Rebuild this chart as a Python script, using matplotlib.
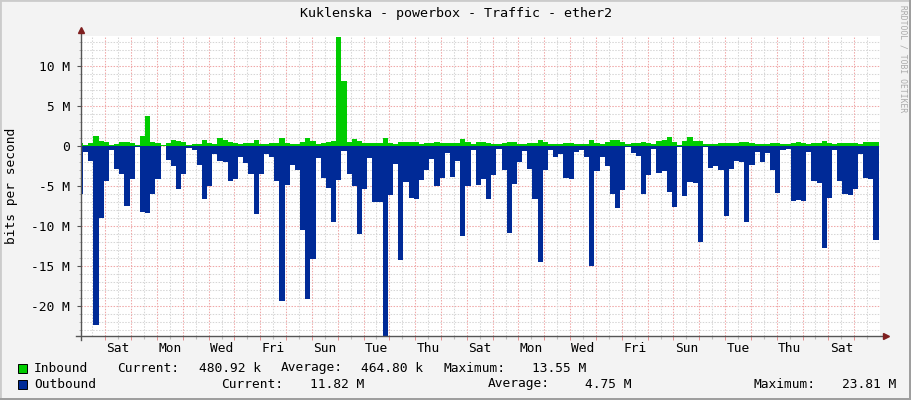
import numpy as np
import matplotlib
matplotlib.use("Agg")
import matplotlib.pyplot as plt
from matplotlib.patches import Rectangle

plt.rcParams['font.family'] = ['DejaVu Sans Mono']

# rrd samples: 5 per day (4.8 h), time axis in days from the first Saturday 00:00
t_first = -1.057
step = 0.2

# Mbit/s
inbound = [
    0.27, 0.06, 0.30, 1.20, 0.60, 0.38, 0.06, 0.18, 0.44, 0.44,
    0.32, 0.06, 1.20, 3.70, 0.46, 0.27, 0.06, 0.35, 0.70, 0.55,
    0.38, 0.06, 0.20, 0.20, 0.70, 0.35, 0.20, 0.95, 0.70, 0.48,
    0.28, 0.22, 0.27, 0.27, 0.70, 0.20, 0.17, 0.28, 0.28, 0.95,
    0.30, 0.22, 0.25, 0.44, 0.90, 0.60, 0.23, 0.35, 0.48, 0.60,
    13.55, 8.05, 0.48, 0.77, 0.60, 0.35, 0.27, 0.35, 0.35, 0.95,
    0.35, 0.23, 0.44, 0.44, 0.44, 0.48, 0.23, 0.27, 0.35, 0.44,
    0.27, 0.35, 0.35, 0.27, 0.77, 0.44, 0.23, 0.40, 0.40, 0.35,
    0.23, 0.15, 0.35, 0.44, 0.44, 0.23, 0.15, 0.35, 0.35, 0.70,
    0.40, 0.15, 0.23, 0.15, 0.35, 0.35, 0.23, 0.23, 0.23, 0.70,
    0.27, 0.15, 0.48, 0.65, 0.70, 0.44, 0.15, 0.35, 0.27, 0.44,
    0.27, 0.15, 0.60, 0.70, 1.05, 0.44, 0.06, 0.60, 1.05, 0.52,
    0.60, 0.15, 0.20, 0.20, 0.30, 0.30, 0.27, 0.27, 0.44, 0.44,
    0.35, 0.15, 0.23, 0.23, 0.35, 0.35, 0.15, 0.15, 0.35, 0.48,
    0.35, 0.15, 0.27, 0.27, 0.56, 0.35, 0.15, 0.35, 0.35, 0.35,
    0.27, 0.15, 0.48, 0.48, 0.48,
]
outbound = [
    6.1, 0.8, 1.9, 22.4, 9.1, 4.4, 0.6, 2.9, 3.6, 7.6,
    4.2, 0.2, 8.3, 8.4, 6.1, 4.2, 0.1, 1.8, 2.5, 5.4,
    3.6, 0.3, 0.6, 2.4, 6.7, 5.1, 1.0, 1.9, 2.0, 4.4,
    4.2, 1.4, 2.2, 3.6, 8.6, 3.6, 1.0, 1.4, 4.4, 19.4,
    4.9, 2.4, 3.1, 10.5, 19.2, 14.2, 1.6, 4.0, 5.3, 9.6,
    4.3, 0.7, 3.6, 5.0, 11.1, 5.4, 1.6, 7.0, 7.1, 23.81,
    6.2, 2.3, 14.3, 4.6, 6.5, 6.7, 4.3, 3.1, 1.7, 5.1,
    4.0, 0.9, 3.9, 1.9, 11.3, 5.1, 0.6, 4.9, 4.2, 6.7,
    3.7, 0.4, 3.1, 10.9, 4.8, 2.1, 0.7, 2.9, 6.7, 14.5,
    3.1, 0.6, 1.4, 1.0, 4.1, 4.2, 0.8, 0.6, 1.4, 15.0,
    3.2, 1.4, 2.5, 6.1, 7.8, 5.5, 0.2, 0.9, 1.3, 6.1,
    3.7, 0.4, 3.4, 3.2, 5.8, 7.7, 0.2, 6.3, 4.6, 4.7,
    12.0, 0.2, 2.8, 2.6, 3.1, 8.8, 2.9, 1.9, 2.0, 9.5,
    2.4, 0.8, 2.1, 0.9, 3.1, 5.9, 0.6, 0.4, 6.9, 6.8,
    6.9, 0.8, 4.4, 4.7, 12.8, 6.5, 0.6, 4.4, 6.1, 6.2,
    5.4, 1.1, 4.0, 4.2, 11.82,
]

day_labels = ['Sat', 'Mon', 'Wed', 'Fri', 'Sun', 'Tue', 'Thu', 'Sat',
              'Mon', 'Wed', 'Fri', 'Sun', 'Tue', 'Thu', 'Sat']
y_ticks = [-20, -15, -10, -5, 0, 5, 10]

in_stats = ['480.92 k', '464.80 k', '13.55 M']
out_stats = ['11.82 M', '4.75 M', '23.81 M']

BACK = '#F3F3F3'
GRID = '#D6D6D6'
MGRID = '#F0A8A8'
AXIS = '#555555'
ARROW = '#7F1F1F'
GREEN = '#00CC00'
BLUE = '#002A97'

W, H = 911, 400
fig = plt.figure(figsize=(W / 100, H / 100), dpi=100, facecolor=BACK)
ax = fig.add_axes([81 / W, 64 / H, 799 / W, 300 / H])
ax.set_facecolor('white')

edges = t_first + step * np.arange(len(outbound) + 1)
ax.stairs(inbound, edges, baseline=0, fill=True, color=GREEN, lw=0, zorder=3)
ax.stairs(-np.array(outbound), edges, baseline=0, fill=True, color=BLUE, lw=0, zorder=3)

ax.set_xlim(-0.941, 30.0)
ax.set_ylim(-23.81, 13.69)

dots = (0, (1.4, 1.4))
for v in range(-23, 14):
    ax.axhline(v, color=MGRID if v % 5 == 0 else GRID, lw=0.75, ls=dots, zorder=1)
for d in np.arange(-0.5, 30, 0.5):
    is_day = d == int(d)
    ax.axvline(d, color=MGRID if is_day else GRID, lw=0.75, ls=dots, zorder=1)

for s in ax.spines.values():
    s.set_visible(False)

# axis lines with arrows
ax.plot([-0.006, 1.004], [0, 0], transform=ax.transAxes, color=AXIS, lw=1,
        clip_on=False, zorder=5)
ax.plot([0, 0], [-0.013, 1.015], transform=ax.transAxes, color=AXIS, lw=1,
        clip_on=False, zorder=5)
ax.plot([1.008], [0], transform=ax.transAxes, marker='>', ms=5, color=ARROW,
        clip_on=False, zorder=6)
ax.plot([0], [1.02], transform=ax.transAxes, marker='^', ms=5, color=ARROW,
        clip_on=False, zorder=6)

ax.set_xticks(0.5 + np.arange(30))
ax.set_xticklabels([day_labels[i // 2] if i % 2 == 0 else '' for i in range(30)])
ax.set_xticks(np.arange(0, 30), minor=True)
ax.tick_params(axis='x', which='major', length=2, color='#BBBBBB', pad=2,
               labelsize=9.3)
ax.tick_params(axis='x', which='minor', length=3, color='#E08080')

ax.set_yticks(y_ticks)
ax.set_yticklabels([f'{v} M' if v != 0 else '0' for v in y_ticks])
ax.set_yticks(np.arange(-23, 14), minor=True)
ax.tick_params(axis='y', which='major', length=3, color=AXIS, pad=5,
               labelsize=9.3)
ax.tick_params(axis='y', which='minor', length=1.5, color='#AAAAAA')

fig.text(12 / W, 1 - 186 / H, 'bits per second', rotation=90, ha='center',
         va='center', fontsize=9.3)
fig.text(456 / W, 1 - 14 / H, 'Kuklenska - powerbox - Traffic - ether2',
         ha='center', va='center', fontsize=9.6)
fig.text(903 / W, 1 - 5 / H, 'RRDTOOL / TOBI OETIKER', rotation=270,
         ha='center', va='top', fontsize=5.8, color='#AAAAAA')

# legend rows
rows = [
    (368, GREEN, 'Inbound', in_stats, [117, 199, 281, 361, 443, 532]),
    (384, BLUE, 'Outbound', out_stats, [221, 310, 488, 585, 754, 842]),
]
for y, col, name, stats, xs in rows:
    fig.patches.append(Rectangle((18 / W, 1 - (y + 5) / H), 9 / W, 9 / H,
                                 transform=fig.transFigure, facecolor=col,
                                 edgecolor='black', lw=0.7))
    fig.text(34 / W, 1 - y / H, name, va='center', fontsize=9.3)
    words = ['Current:', stats[0], 'Average:', stats[1], 'Maximum:', stats[2]]
    for x, w in zip(xs, words):
        fig.text(x / W, 1 - y / H, w, va='center', fontsize=9.3)

# frame shading
fig.patches.append(Rectangle((0, 0), 1, 1, transform=fig.transFigure,
                             fill=False, edgecolor='#CBCBCB', lw=2))
fig.patches.append(Rectangle((0, 0), 1, 2 / H, transform=fig.transFigure,
                             facecolor='#9E9E9E', lw=0))
fig.patches.append(Rectangle((1 - 2 / W, 0), 2 / W, 1, transform=fig.transFigure,
                             facecolor='#9E9E9E', lw=0))

fig.savefig('out.png', dpi=100, facecolor=BACK)
